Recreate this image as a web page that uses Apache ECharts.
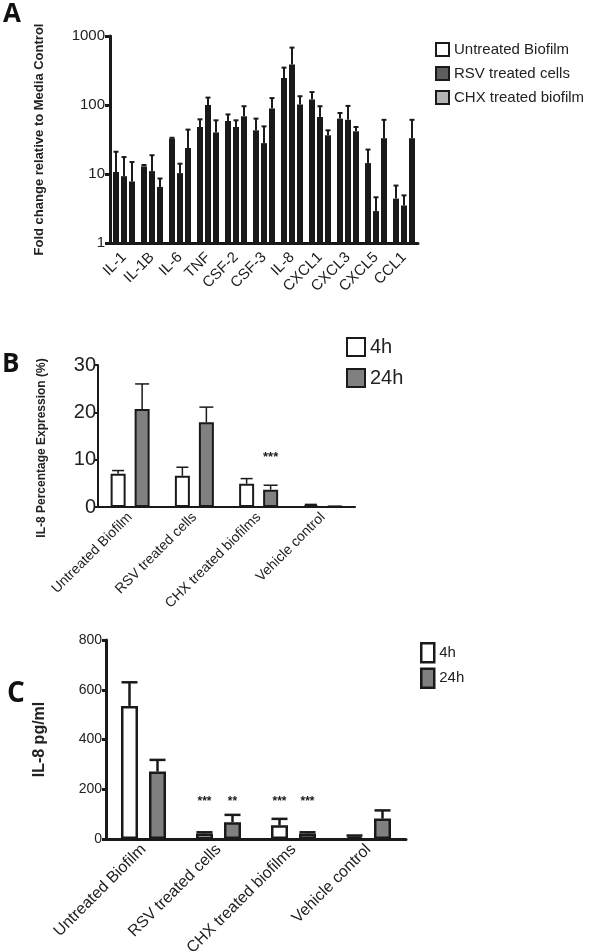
<!DOCTYPE html>
<html>
<head>
<meta charset="utf-8">
<script src="https://cdn.jsdelivr.net/npm/echarts@6/dist/echarts.min.js"></script>
<style>
html,body{margin:0;padding:0;background:#fff;}
#chart{width:600px;height:951px;}
</style>
</head>
<body>
<div id="chart"></div>
<script>
// ---------- Panel A data ----------
const catsA = ['IL-1','IL-1B','IL-6','TNF','CSF-2','CSF-3','IL-8','CXCL1','CXCL3','CXCL5','CCL1'];
const seriesNamesA = ['Untreated Biofilm','RSV treated cells','CHX treated biofilm'];
const untreatedA    = [10.7, 12.9, 32.6, 48, 58.6, 43, 246, 120, 63.5, 14.4, 4.4];
const untreatedASem = [10.3, 0.6, 0.9, 14, 14.4, 20.5, 102, 34, 13.1, 8.2, 2.4];
const rsvA          = [9.3, 11, 10.3, 100, 48, 28, 385, 67, 61, 2.9, 3.5];
const rsvASem       = [8.3, 7.7, 3.8, 28, 12, 21, 294, 29, 36, 1.7, 1.4];
const chxA          = [7.8, 6.5, 23.8, 40, 68.6, 88.7, 102, 36.4, 41.6, 33, 33];
const chxASem       = [7.1, 2.1, 20.2, 20, 27.4, 37.3, 32, 6.6, 6.4, 28, 28];
const ticksA = [1, 10, 100, 1000];

// ---------- Panel B / C data ----------
const catsBC = ['Untreated Biofilm','RSV treated cells','CHX treated biofilms','Vehicle control'];
const timeNames = ['4h','24h'];
const b4h     = [7.0, 6.6, 4.9, 0.4];
const b4hSem  = [0.7, 1.8, 1.1, 0.15];
const b24h    = [20.7, 17.9, 3.65, 0.1];
const b24hSem = [5.3, 3.2, 0.95, 0.05];
const starsB  = [[2, 1, 10.5, '***']];   // [category, series index, value, text]

const c4h     = [535, 22, 55, 10];
const c4hSem  = [95, 5, 26, 4];
const c24h    = [271, 67, 22, 82];
const c24hSem = [47, 30, 5, 33];
const starsC  = [[1, 0, 151, '***'], [1, 1, 151, '**'], [2, 0, 151, '***'], [2, 1, 151, '***']];

// ---------- styles ----------
const FONT = 'Liberation Sans, Arial, sans-serif';
const INK = '#1a1a1a';
const colA = ['#ffffff', '#5e5e5e', '#b5b5b5'];
const colBC = ['#ffffff', '#808080'];

const bwA = 6, gapA = 2;      // panel A bar width / gap (px)
const bwB = 15, gapB = 9;
const bwC = 17, gapC = 11;

function groupOffset(k, n, bw, gap) {
  return (k - (n - 1) / 2) * (bw + gap);
}

function errSeries(grid, mean, sem, k, n, bw, gap, cap, lw) {
  const off = groupOffset(k, n, bw, gap);
  return {
    type: 'custom',
    xAxisIndex: grid, yAxisIndex: grid,
    z: 5, silent: true,
    data: mean.map((v, i) => [i, v, sem[i]]),
    encode: { x: 0, y: 1 },
    renderItem: function (params, api) {
      const i = api.value(0), m = api.value(1), s = api.value(2);
      const p0 = api.coord([i, m]);
      const p1 = api.coord([i, m + s]);
      const x = p0[0] + off;
      return {
        type: 'group',
        children: [
          { type: 'line', shape: { x1: x, y1: p0[1], x2: x, y2: p1[1] }, style: { stroke: INK, lineWidth: lw } },
          { type: 'line', shape: { x1: x - cap / 2, y1: p1[1], x2: x + cap / 2, y2: p1[1] }, style: { stroke: INK, lineWidth: lw } }
        ]
      };
    }
  };
}

function starSeries(grid, stars, n, bw, gap, fs) {
  return {
    type: 'custom',
    xAxisIndex: grid, yAxisIndex: grid,
    z: 6, silent: true,
    data: stars.map(s => [s[0], s[2], s[1]]),
    encode: { x: 0, y: 1 },
    renderItem: function (params, api) {
      const p = api.coord([api.value(0), api.value(1)]);
      const off = groupOffset(api.value(2), n, bw, gap);
      return {
        type: 'text',
        style: { text: stars[params.dataIndex][3], x: p[0] + off, y: p[1], align: 'center', verticalAlign: 'middle', font: 'bold ' + fs + 'px ' + FONT, fill: INK }
      };
    }
  };
}

function barSeries(name, grid, data, color, bw, gap, border) {
  return {
    type: 'bar', name: name,
    xAxisIndex: grid, yAxisIndex: grid,
    data: data,
    barWidth: bw,
    barGap: (gap / bw * 100) + '%',
    itemStyle: { color: color, borderColor: INK, borderWidth: border },
    emphasis: { disabled: true }
  };
}

function catAxis(grid, cats, lw, fs, tickLen, margin) {
  return {
    type: 'category', gridIndex: grid, data: cats,
    axisLine: { lineStyle: { color: INK, width: lw } },
    axisTick: { alignWithLabel: true, length: tickLen, lineStyle: { color: INK, width: lw } },
    axisLabel: { rotate: 45, interval: 0, fontSize: fs, color: '#222', fontFamily: FONT, margin: margin },
    splitLine: { show: false }
  };
}

const option = {
  animation: false,
  backgroundColor: '#fff',
  textStyle: { fontFamily: FONT },
  grid: [
    { left: 110, top: 36, width: 308, height: 207, outerBoundsMode: 'none', containLabel: false },
    { left: 98, top: 365, width: 257, height: 142, outerBoundsMode: 'none', containLabel: false },
    { left: 106, top: 640, width: 300, height: 199, outerBoundsMode: 'none', containLabel: false }
  ],
  legend: [
    { data: seriesNamesA, orient: 'vertical', left: 430, top: 37, itemWidth: 13, itemHeight: 13, itemGap: 9,
      icon: 'rect', textStyle: { fontSize: 15, color: '#222', fontFamily: FONT },
      itemStyle: { borderColor: INK, borderWidth: 2 } },
    { data: timeNames, orient: 'vertical', left: 341, top: 332, itemWidth: 18, itemHeight: 18, itemGap: 11,
      icon: 'rect', textStyle: { fontSize: 20, color: '#222', fontFamily: FONT },
      itemStyle: { borderColor: INK, borderWidth: 2 } },
    { data: timeNames, orient: 'vertical', left: 415, top: 637, itemWidth: 13, itemHeight: 19, itemGap: 4,
      icon: 'rect', textStyle: { fontSize: 15, color: '#222', fontFamily: FONT },
      itemStyle: { borderColor: INK, borderWidth: 2.5 } }
  ],
  xAxis: [
    catAxis(0, catsA, 3, 15, 4, 12),
    catAxis(1, catsBC, 2, 14, 5, 8),
    catAxis(2, catsBC, 3, 16, 5, 8)
  ],
  yAxis: [
    { type: 'log', logBase: 10, gridIndex: 0, min: ticksA[0], max: ticksA[ticksA.length - 1],
      name: 'Fold change relative to Media Control', nameLocation: 'middle', nameGap: 64,
      nameTextStyle: { fontWeight: 'bold', fontSize: 13, color: '#222', fontFamily: FONT },
      axisLine: { show: true, lineStyle: { color: INK, width: 3 } },
      axisTick: { show: true, length: 5, lineStyle: { color: INK, width: 3 } },
      axisLabel: { fontSize: 15, color: '#222', margin: 5, fontFamily: FONT, formatter: v => String(v) },
      splitLine: { show: false } },
    { type: 'value', gridIndex: 1, min: 0, max: 30, interval: 10,
      name: 'IL-8 Percentage Expression (%)', nameLocation: 'middle', nameGap: 50,
      nameTextStyle: { fontWeight: 'bold', fontSize: 12, color: '#222', fontFamily: FONT, padding: [0, 24, 0, 0] },
      axisLine: { show: true, lineStyle: { color: INK, width: 2 } },
      axisTick: { show: true, length: 3, lineStyle: { color: INK, width: 2 } },
      axisLabel: { fontSize: 20, color: '#222', margin: 2, fontFamily: FONT },
      splitLine: { show: false } },
    { type: 'value', gridIndex: 2, min: 0, max: 800, interval: 200,
      name: 'IL-8 pg/ml', nameLocation: 'middle', nameGap: 58,
      nameTextStyle: { fontWeight: 'bold', fontSize: 16, color: '#222', fontFamily: FONT },
      axisLine: { show: true, lineStyle: { color: INK, width: 3 } },
      axisTick: { show: true, length: 4, lineStyle: { color: INK, width: 3 } },
      axisLabel: { fontSize: 14, color: '#222', margin: 4, fontFamily: FONT },
      splitLine: { show: false } }
  ],
  graphic: [
    { type: 'text', left: 3, top: 2, style: { text: 'A', font: 'bold 26px "Open Sans", sans-serif', fill: '#111' } },
    { type: 'text', left: 2, top: 352, style: { text: 'B', font: 'bold 26px "Open Sans", sans-serif', fill: '#111' } },
    { type: 'text', left: 7, top: 680, style: { text: 'C', font: 'bold 28px "Open Sans", sans-serif', fill: '#111' } }
  ],
  series: [
    barSeries(seriesNamesA[0], 0, untreatedA, colA[0], bwA, gapA, 3),
    barSeries(seriesNamesA[1], 0, rsvA, colA[1], bwA, gapA, 3),
    barSeries(seriesNamesA[2], 0, chxA, colA[2], bwA, gapA, 3),
    errSeries(0, untreatedA, untreatedASem, 0, 3, bwA, gapA, 5, 2),
    errSeries(0, rsvA, rsvASem, 1, 3, bwA, gapA, 5, 2),
    errSeries(0, chxA, chxASem, 2, 3, bwA, gapA, 5, 2),

    barSeries(timeNames[0], 1, b4h, colBC[0], bwB, gapB, 2),
    barSeries(timeNames[1], 1, b24h, colBC[1], bwB, gapB, 2),
    errSeries(1, b4h, b4hSem, 0, 2, bwB, gapB, 12, 1.5),
    errSeries(1, b24h, b24hSem, 1, 2, bwB, gapB, 14, 1.5),
    starSeries(1, starsB, 2, bwB, gapB, 13),

    barSeries(timeNames[0], 2, c4h, colBC[0], bwC, gapC, 2.5),
    barSeries(timeNames[1], 2, c24h, colBC[1], bwC, gapC, 2.5),
    errSeries(2, c4h, c4hSem, 0, 2, bwC, gapC, 16, 2.5),
    errSeries(2, c24h, c24hSem, 1, 2, bwC, gapC, 16, 2.5),
    starSeries(2, starsC, 2, bwC, gapC, 12)
  ]
};

const chart = echarts.init(document.getElementById('chart'), null, { renderer: 'canvas' });
chart.setOption(option);
</script>
</body>
</html>
